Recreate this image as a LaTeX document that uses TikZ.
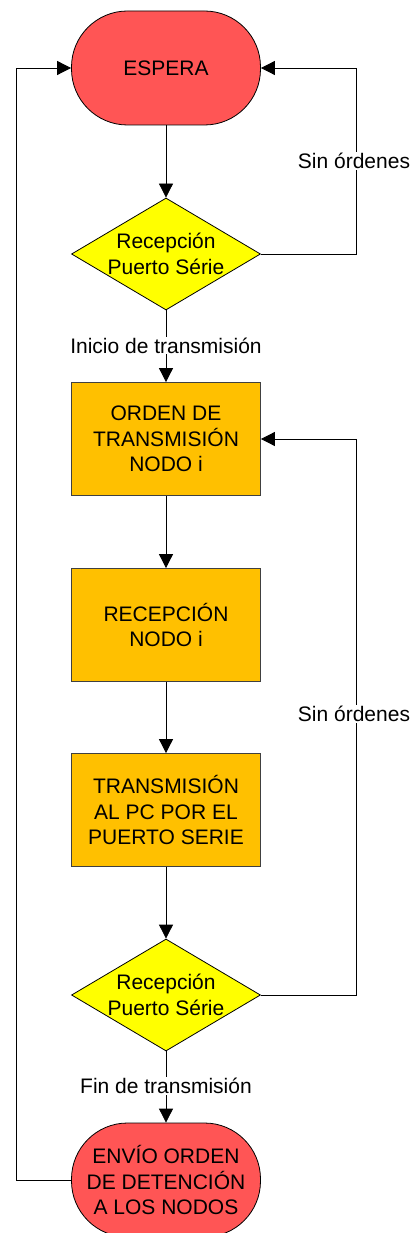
\documentclass[tikz,border=0pt]{standalone}
\usepackage{fontspec}
\setmainfont{Liberation Sans}
\usetikzlibrary{arrows.meta,shapes.geometric}
\definecolor{termred}{RGB}{255,85,85}
\definecolor{procorange}{RGB}{255,192,0}
\definecolor{decyellow}{RGB}{255,255,0}
\tikzset{
  txt/.style={font=\fontsize{21}{25.5}\selectfont, align=center},
  terminal/.style={txt, draw=black, line width=0.8pt, fill=termred,
    minimum width=189pt, minimum height=114pt, rounded corners=56pt},
  process/.style={txt, draw=black!75, line width=0.8pt, fill=procorange,
    minimum width=189pt, minimum height=113pt},
  decision/.style={txt, draw=black, line width=0.8pt, fill=decyellow,
    diamond, aspect=1.6875, inner sep=0pt,
    minimum width=189pt, minimum height=112pt},
  flow/.style={line width=0.8pt, -{Triangle[length=14pt,width=14pt]}},
  edgelabel/.style={txt, fill=white, inner sep=1pt}
}
\begin{document}
\begin{tikzpicture}[x=1pt,y=-1pt]
  \useasboundingbox (0,0) rectangle (411,1233);

  % shapes of the flow
  \node[terminal] (espera) at (166,68) {ESPERA};
  \node[decision] (rx1) at (166,254) {Recepción\\Puerto Série};
  \node[process] (orden) at (166,439) {ORDEN DE\\TRANSMISIÓN\\NODO i};
  \node[process] (recep) at (166,625) {RECEPCIÓN\\NODO i};
  \node[process] (tx) at (166,810) {TRANSMISIÓN\\AL PC POR EL\\PUERTO SERIE};
  \node[decision] (rx2) at (166,995) {Recepción\\Puerto Série};
  \node[terminal] (envio) at (166,1180) {ENVÍO ORDEN\\DE DETENCIÓN\\A LOS NODOS};

  % corner points of the loops
  \coordinate (r1) at (356,254);
  \coordinate (r1top) at (356,68);
  \coordinate (r2) at (356,995);
  \coordinate (r2top) at (356,439);
  \coordinate (l1) at (16,1180);
  \coordinate (l1top) at (16,68);

  % straight-down connections
  \draw[flow] (espera) -- (rx1);
  \draw[flow] (rx1) -- node[edgelabel, pos=0.49] {Inicio de transmisión} (orden);
  \draw[flow] (orden) -- (recep);
  \draw[flow] (recep) -- (tx);
  \draw[flow] (tx) -- (rx2);
  \draw[flow] (rx2) -- node[edgelabel, pos=0.49] {Fin de transmisión} (envio);

  % loops back
  \draw[flow] (rx1.east) -- (r1) -- node[edgelabel, pos=0.5, xshift=-2pt] {Sin órdenes} (r1top) -- (espera.east);
  \draw[flow] (rx2.east) -- (r2) -- node[edgelabel, pos=0.505, xshift=-2pt] {Sin órdenes} (r2top) -- (orden.east);
  \draw[flow] (envio.west) -- (l1) -- (l1top) -- (espera.west);
\end{tikzpicture}
\end{document}
